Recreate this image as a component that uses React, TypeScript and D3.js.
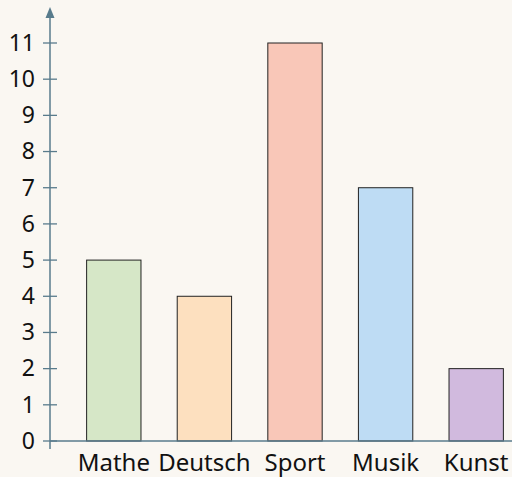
import React from "react";
import * as d3 from "d3";

const categories = ["Mathe", "Deutsch", "Sport", "Musik", "Kunst"];
const values = [5, 4, 11, 7, 2];
const colors = ["#d6e7c7", "#fde0bf", "#f9c7b8", "#bedcf4", "#d1bade"];
const yTicks = [0, 1, 2, 3, 4, 5, 6, 7, 8, 9, 10, 11];

const W = 512;
const H = 477;
const axisColor = "#587b8c";
const font = "'Noto Sans', sans-serif";

export default function App() {
  const x = d3
    .scaleBand<string>()
    .domain(categories)
    .range([68.5, 521.5])
    .paddingInner(0.4)
    .paddingOuter(0.2);
  const y = d3.scaleLinear().domain([0, 11]).range([441, 43]);
  const axisX = 50;

  return (
    <svg
      width={W}
      height={H}
      style={{ position: "absolute", left: 0, top: 0, background: "#faf7f2" }}
    >
      <rect x={0} y={0} width={W} height={H} fill="#faf7f2" />
      {categories.map((c, i) => (
        <rect
          key={c}
          x={x(c)}
          y={y(values[i])}
          width={x.bandwidth()}
          height={y(0) - y(values[i])}
          fill={colors[i]}
          stroke="#222"
          strokeWidth={1}
        />
      ))}
      <line x1={axisX} x2={W} y1={y(0)} y2={y(0)} stroke={axisColor} strokeWidth={1.3} />
      <line x1={axisX} x2={axisX} y1={449} y2={14} stroke={axisColor} strokeWidth={1.5} />
      <path
        d={`M${axisX},7 L${axisX - 4.5},18 L${axisX + 4.5},18 Z`}
        fill={axisColor}
      />
      {yTicks.map((t) => (
        <g key={t}>
          <line x1={43} x2={57} y1={y(t)} y2={y(t)} stroke={axisColor} strokeWidth={1.3} />
          <text
            x={35}
            y={y(t)}
            dy="0.34em"
            textAnchor="end"
            fontFamily={font}
            fontSize={23}
            fill="#111"
          >
            {t}
          </text>
        </g>
      ))}
      {categories.map((c) => (
        <text
          key={c}
          x={(x(c) as number) + x.bandwidth() / 2}
          y={471}
          textAnchor="middle"
          fontFamily={font}
          fontSize={24}
          fill="#111"
        >
          {c}
        </text>
      ))}
    </svg>
  );
}
